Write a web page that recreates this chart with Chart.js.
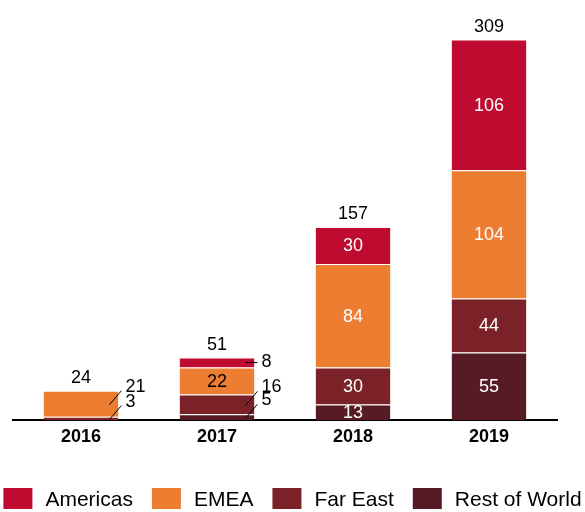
<!DOCTYPE html>
<html>
<head>
<meta charset="utf-8">
<script src="https://cdn.jsdelivr.net/npm/chart.js@4/dist/chart.umd.min.js"></script>
<style>
  html, body { margin: 0; padding: 0; background: #fff; }
  #wrap { width: 585px; height: 512px; }
</style>
</head>
<body>
<div id="wrap"><canvas id="salesChart"></canvas></div>
<script>
// data
const years = ["2016", "2017", "2018", "2019"];
const americas = [0, 8, 30, 106];
const emea = [21, 22, 84, 104];
const farEast = [3, 16, 30, 44];
const restOfWorld = [0, 5, 13, 55];
const totals = [24, 51, 157, 309];

const FONT = "'Liberation Sans', Arial, sans-serif";

// value labels: inside for big stacks, callouts with a little leader line for small ones
const segmentLabels = {
  id: "segmentLabels",
  afterDatasetsDraw(chart) {
    const ctx = chart.ctx;
    ctx.save();
    ctx.font = "18px " + FONT;
    ctx.textBaseline = "middle";
    const last = chart.data.datasets.length - 1;
    chart.data.datasets.forEach((ds, di) => {
      const meta = chart.getDatasetMeta(di);
      meta.data.forEach((bar, i) => {
        const v = ds.data[i];
        if (!v) return;
        const mid = (bar.y + bar.base) / 2;
        const right = bar.x + bar.width / 2;
        if (totals[i] >= 100) {
          ctx.fillStyle = "#fff";
          ctx.textAlign = "center";
          ctx.fillText(String(v), bar.x, mid + 1);
        } else if (v > 21) {
          ctx.fillStyle = "#000";
          ctx.textAlign = "center";
          ctx.fillText(String(v), bar.x, mid + 1);
        } else {
          // topmost series gets a flat line, the rest rise up to the right
          const flat = di === last;
          const sx = right - 9, sy = mid + (flat ? 0 : 1);
          const ex = right + 3, ey = flat ? mid : mid - 13;
          ctx.strokeStyle = "#000";
          ctx.lineWidth = 1;
          ctx.beginPath();
          ctx.moveTo(sx, sy);
          ctx.lineTo(ex, ey);
          ctx.stroke();
          ctx.fillStyle = "#000";
          ctx.textAlign = "left";
          ctx.fillText(String(v), ex + 4, flat ? ey : ey - 4);
        }
      });
    });
    // totals on top
    const topMeta = chart.getDatasetMeta(last);
    ctx.fillStyle = "#000";
    ctx.textAlign = "center";
    ctx.textBaseline = "alphabetic";
    topMeta.data.forEach((bar, i) => {
      const y = chart.scales.y.getPixelForValue(totals[i]);
      ctx.fillText(String(totals[i]), bar.x, y - 8);
    });
    ctx.restore();
  }
};

// legend drawn by hand so it can use the whole width, not just the plot width
const bottomLegend = {
  id: "bottomLegend",
  afterDraw(chart) {
    const ctx = chart.ctx;
    const items = chart.data.datasets.slice().reverse();
    ctx.save();
    ctx.font = "21px " + FONT;
    const box = 29, gap = 13, space = 19;
    const widths = items.map(d => box + gap + ctx.measureText(d.label).width);
    const total = widths.reduce((a, b) => a + b, 0) + space * (items.length - 1);
    let x = (chart.width - total) / 2;
    const yMid = 498.5;
    ctx.textBaseline = "middle";
    ctx.textAlign = "left";
    items.forEach((d, k) => {
      ctx.fillStyle = d.backgroundColor;
      ctx.fillRect(x, yMid - 10.5, box, 21);
      ctx.fillStyle = "#000";
      ctx.fillText(d.label, x + box + gap, yMid + 2);
      x += widths[k] + space;
    });
    ctx.restore();
  }
};

new Chart(document.getElementById("salesChart"), {
  type: "bar",
  data: {
    labels: years,
    datasets: [
      { label: "Rest of World", data: restOfWorld, backgroundColor: "#561B25" },
      { label: "Far East", data: farEast, backgroundColor: "#7A2228" },
      { label: "EMEA", data: emea, backgroundColor: "#ED7D31" },
      { label: "Americas", data: americas, backgroundColor: "#BE0B2F" }
    ].map(d => Object.assign(d, {
      borderColor: "#fff",
      borderWidth: { top: 1, bottom: 0, left: 0, right: 0 },
      borderSkipped: false,
      categoryPercentage: 1,
      barPercentage: 0.55
    }))
  },
  options: {
    responsive: true,
    maintainAspectRatio: false,
    animation: false,
    layout: { padding: { top: 10, left: 13, right: 28, bottom: 58 } },
    scales: {
      x: {
        stacked: true,
        grid: { display: false, drawTicks: false },
        border: { display: true, color: "#000", width: 2 },
        ticks: { color: "#000", font: { family: FONT, size: 18, weight: "bold" }, padding: 6 }
      },
      y: {
        stacked: true,
        display: false,
        min: 0,
        max: 333
      }
    },
    plugins: {
      legend: { display: false },
      tooltip: { enabled: false }
    }
  },
  plugins: [segmentLabels, bottomLegend]
});
</script>
</body>
</html>
